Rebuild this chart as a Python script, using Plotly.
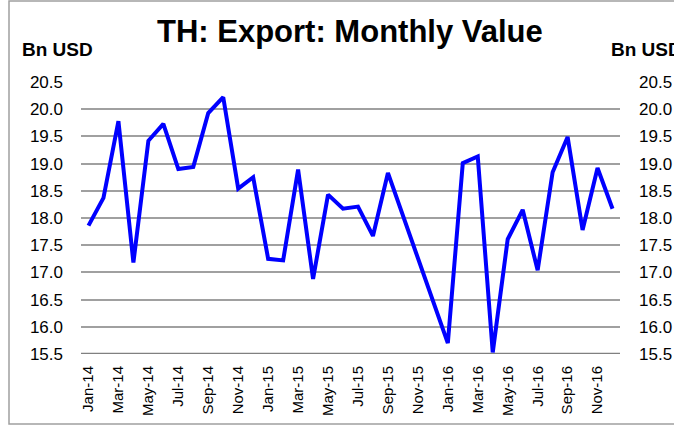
import plotly.graph_objects as go

# Thai monthly exports, billions of USD (Oct-Dec 2015 not reported)
months = [
    "Jan-14", "Feb-14", "Mar-14", "Apr-14", "May-14", "Jun-14",
    "Jul-14", "Aug-14", "Sep-14", "Oct-14", "Nov-14", "Dec-14",
    "Jan-15", "Feb-15", "Mar-15", "Apr-15", "May-15", "Jun-15",
    "Jul-15", "Aug-15", "Sep-15", "Oct-15", "Nov-15", "Dec-15",
    "Jan-16", "Feb-16", "Mar-16", "Apr-16", "May-16", "Jun-16",
    "Jul-16", "Aug-16", "Sep-16", "Oct-16", "Nov-16", "Dec-16",
]
export_value = [
    17.86, 18.37, 19.78, 17.18, 19.42, 19.73,
    18.90, 18.94, 19.93, 20.22, 18.54, 18.75,
    17.25, 17.22, 18.89, 16.88, 18.43, 18.17,
    18.21, 17.67, 18.83, None, None, None,
    15.70, 19.01, 19.13, 15.53, 17.61, 18.15,
    17.04, 18.84, 19.49, 17.78, 18.92, 18.17,
]
y_ticks = [15.5, 16.0, 16.5, 17.0, 17.5, 18.0, 18.5, 19.0, 19.5, 20.0, 20.5]
x_ticks = months[::2]

W, H = 674, 429
L, R, T, B = 81, 54, 82, 75
pw, ph = W - L - R, H - T - B

def px_x(x):
    return (x - L) / pw

def px_y(y):
    return (H - B - y) / ph

font = "Liberation Sans, Arial, sans-serif"

fig = go.Figure()
fig.add_trace(go.Scatter(
    x=months, y=export_value, mode="lines", connectgaps=True,
    line=dict(color="#0000ff", width=4), showlegend=False, hoverinfo="x+y",
))
fig.add_trace(go.Scatter(
    x=months, y=export_value, mode="lines", connectgaps=True, yaxis="y2",
    line=dict(color="rgba(0,0,0,0)", width=0), showlegend=False, hoverinfo="skip",
))

fig.update_layout(
    width=W, height=H,
    margin=dict(l=L, r=R, t=T, b=B, pad=0, autoexpand=False),
    paper_bgcolor="white", plot_bgcolor="white",
    font=dict(family=font, color="black"),
    xaxis=dict(
        type="category", range=[-0.5, len(months) - 0.5],
        tickmode="array", tickvals=x_ticks, ticktext=x_ticks,
        tickangle=-90, tickfont=dict(size=15),
        showgrid=False, showline=False, ticks="", ticklabelstandoff=8,
        zeroline=False,
    ),
    yaxis=dict(
        range=[15.5, 20.5], tickmode="array", tickvals=y_ticks,
        tickformat=".1f", tickfont=dict(size=17),
        showgrid=True, gridcolor="#a0a0a0", gridwidth=1.6,
        showline=False, zeroline=False, ticks="", ticklabelstandoff=17,
    ),
    yaxis2=dict(
        range=[15.5, 20.5], tickmode="array", tickvals=y_ticks,
        tickformat=".1f", tickfont=dict(size=17),
        overlaying="y", side="right", showgrid=False,
        showline=False, zeroline=False, ticks="", ticklabelstandoff=18,
    ),
    shapes=[
        # outer chart frame
        dict(type="rect", xref="paper", yref="paper",
             x0=px_x(9), x1=px_x(700), y0=px_y(424), y1=px_y(1),
             line=dict(color="#a0a0a0", width=1.5), layer="below"),
        # darker baseline at the bottom of the plot area
        dict(type="line", xref="paper", yref="y", x0=0, x1=1, y0=15.5, y1=15.5,
             line=dict(color="#808080", width=2.5), layer="below"),
    ],
    annotations=[
        dict(text="<b>TH: Export: Monthly Value</b>", xref="paper", yref="paper",
             x=px_x(350), y=px_y(31), xanchor="center", yanchor="middle",
             showarrow=False, font=dict(size=31, color="black")),
        dict(text="<b>Bn USD</b>", xref="paper", yref="paper",
             x=px_x(20), y=px_y(49), xanchor="left", yanchor="middle",
             showarrow=False, font=dict(size=19, color="black")),
        dict(text="<b>Bn USD</b>", xref="paper", yref="paper",
             x=px_x(609), y=px_y(49), xanchor="left", yanchor="middle",
             showarrow=False, font=dict(size=19, color="black")),
    ],
)

fig.write_html("out.html")
